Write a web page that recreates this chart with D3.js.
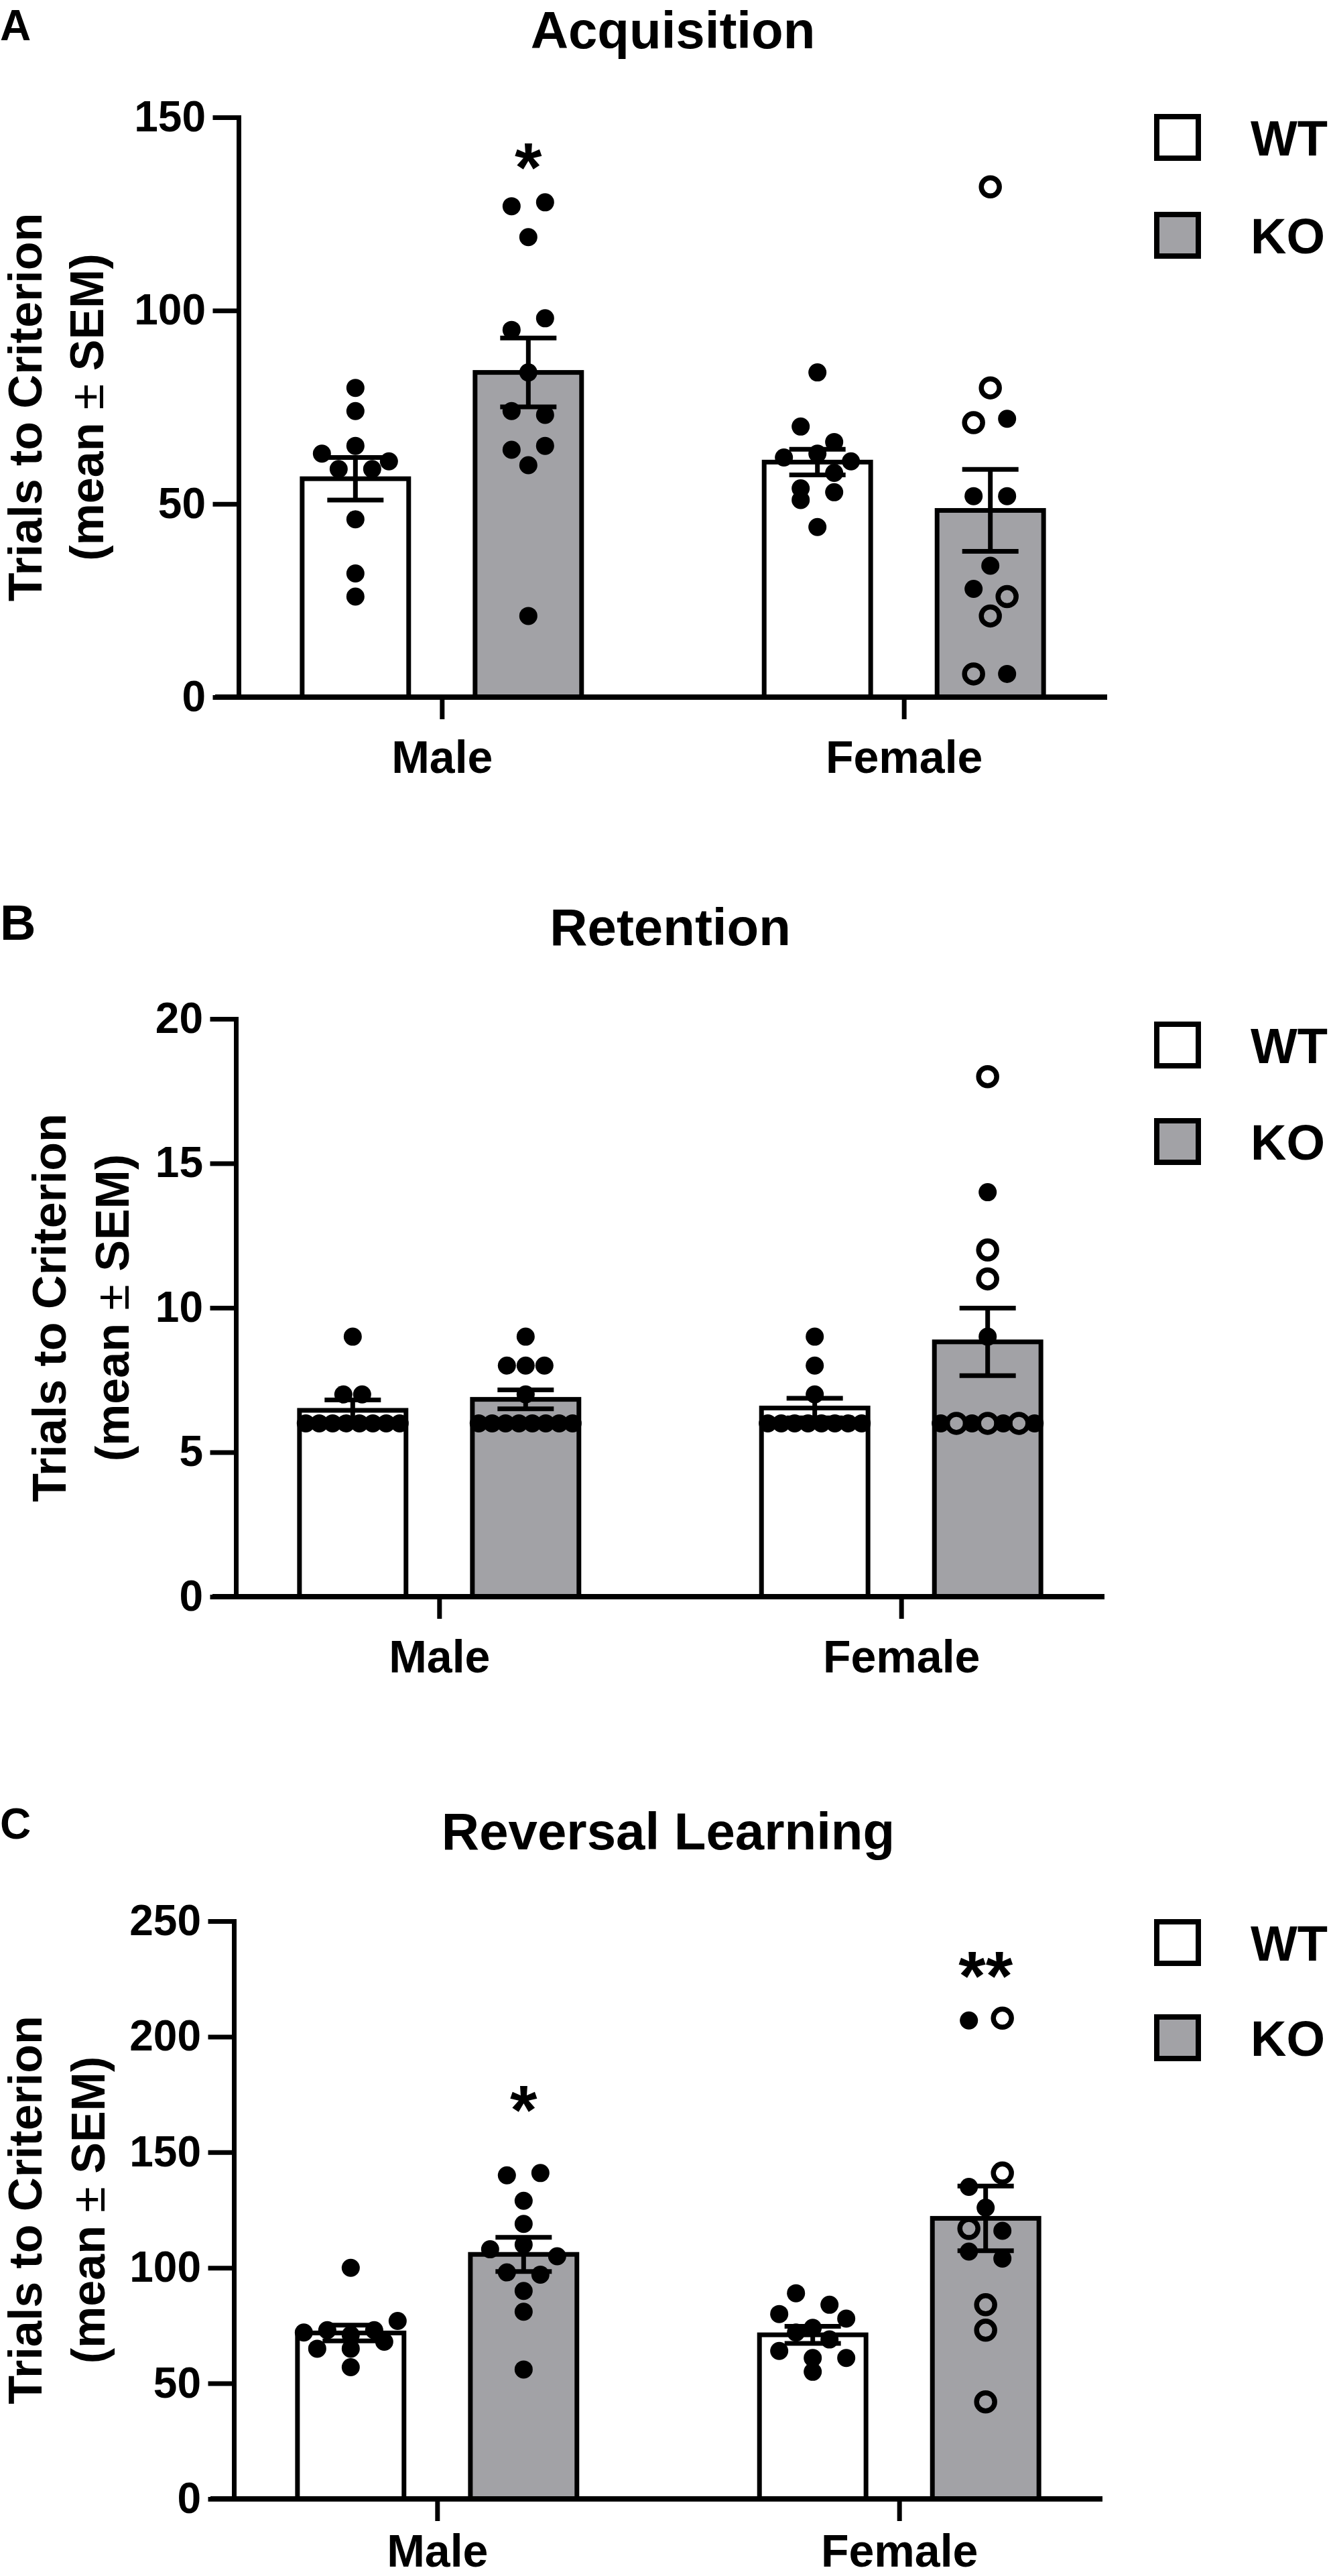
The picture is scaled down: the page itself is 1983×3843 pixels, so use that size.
<!DOCTYPE html>
<html><head><meta charset="utf-8">
<script src="https://cdn.jsdelivr.net/npm/d3@7"></script>
<style>
html,body{margin:0;padding:0;background:#fff;}
svg{display:block;}
text{font-family:"Liberation Sans", Arial, Helvetica, sans-serif;font-weight:bold;fill:#000;}
</style></head><body>
<svg id="chart" width="1983" height="3843"></svg>
<script>
// ================= DATA =================
const categories = ["Male", "Female"];
const genotypes = ["WT", "KO"];
const panelLetters = ["A", "B", "C"];
const panelTitles = ["Acquisition", "Retention", "Reversal Learning"];
const yAxisTitle1 = "Trials to Criterion";
const yAxisTitle2 = ["(mean ", "\u00B1", " SEM)"];

const acqTicks = [0, 50, 100, 150];
const retTicks = [0, 5, 10, 15, 20];
const revTicks = [0, 50, 100, 150, 200, 250];

// bar order: WT-Male, KO-Male, WT-Female, KO-Female
const acqMean = [56.5, 84.0, 60.8, 48.3];
const acqSem  = [5.5, 8.9, 3.3, 10.6];
const retMean = [6.45, 6.83, 6.53, 8.82];
const retSem  = [0.36, 0.33, 0.34, 1.17];
const revMean = [71.8, 105.8, 71.0, 121.4];
const revSem  = [3.4, 7.4, 3.7, 14.0];

// individual animals (Acquisition)
const acqWTMale   = [80, 74, 63, 65, 61, 59, 59, 46, 32, 26];
const acqKOMale   = [127, 128, 119, 95, 98, 84, 74, 73, 64, 65, 60, 21];
const acqWTFemale = [84, 70, 66, 62, 63, 61, 54, 58, 51, 53, 44];
const acqKOFemale = [132, 80, 71, 72, 52, 52, 34, 28, 26, 21, 6, 6];
const acqKOFemaleOpen = [1, 1, 1, 0, 0, 0, 0, 0, 1, 1, 1, 0];

// Retention
const retWTMale   = [9, 7, 7, 6, 6, 6, 6, 6, 6, 6, 6];
const retKOMale   = [9, 8, 8, 8, 7, 6, 6, 6, 6, 6, 6, 6, 6];
const retWTFemale = [9, 8, 7, 6, 6, 6, 6, 6, 6, 6, 6];
const retKOFemale = [18, 14, 12, 11, 9, 6, 6, 6, 6, 6, 6, 6];
const retKOFemaleOpen = [1, 0, 1, 1, 0, 0, 1, 0, 1, 0, 1, 0];

// Reversal learning
const revWTMale   = [100, 72, 73, 71, 73, 77, 65, 65, 68, 57];
const revKOMale   = [140, 141, 129, 119, 108, 110, 105, 98, 97, 90, 81, 56];
const revWTFemale = [89, 80, 84, 74, 78, 72, 69, 64, 61, 61, 55];
const revKOFemale = [207, 208, 135, 141, 126, 117, 116, 107, 104, 84, 73, 42];
const revKOFemaleOpen = [0, 1, 0, 1, 0, 1, 0, 0, 0, 1, 1, 1];

// significance marks per bar
const acqSig = ["", "*", "", ""];
const acqSigAt = [null, 141, null, null];
const retSig = ["", "", "", ""];
const retSigAt = [null, null, null, null];
const revSig = ["", "*", "", "**"];
const revSigAt = [null, 175, null, 233];

// ================= LAYOUT / STYLE =================
const panels = [
  {ticks: acqTicks, mean: acqMean, sem: acqSem, sig: acqSig, sigAt: acqSigAt,
   pts: [acqWTMale, acqKOMale, acqWTFemale, acqKOFemale],
   open: [null, null, null, acqKOFemaleOpen]},
  {ticks: retTicks, mean: retMean, sem: retSem, sig: retSig, sigAt: retSigAt,
   pts: [retWTMale, retKOMale, retWTFemale, retKOFemale],
   open: [null, null, null, retKOFemaleOpen]},
  {ticks: revTicks, mean: revMean, sem: revSem, sig: revSig, sigAt: revSigAt,
   pts: [revWTMale, revKOMale, revWTFemale, revKOFemale],
   open: [null, null, null, revKOFemaleOpen]}
];
const layout = [
  {top: 175,  bottom: 1040, dx: 0,  letterY: 60,   letterSize: 64, titleY: 72,   ylabX: [62, 154], legWT: 205,  legKO: 351,  spacing: 50, xPad: 32},
  {top: 1520, bottom: 2382, dx: -4, letterY: 1402, letterSize: 74, titleY: 1410, ylabX: [98, 192], legWT: 1559, legKO: 1703, spacing: 28, xPad: 32},
  {top: 2866, bottom: 3728, dx: -7, letterY: 2743, letterSize: 64, titleY: 2759, ylabX: [62, 156], legWT: 2898, legKO: 3040, spacing: 50, xPad: 20}
];
const AXIS_X = 356, AXIS_END = 1652;
const LW = 7;
const GRAY = "#a2a2a6";
const DOT_R = 13.5, OPEN_R = 13.5, OPEN_SW = 7.5;

const svg = d3.select("#chart");
svg.append("rect").attr("width", 1983).attr("height", 3843).attr("fill", "#fff");

function swarm(values, y, spacing) {
  const idx = values.map((v, i) => i).sort((a, b) => values[b] - values[a] || a - b);
  const off = new Array(values.length).fill(0);
  let i = 0;
  while (i < idx.length) {
    const first = y(values[idx[i]]);
    const row = [idx[i]];
    let j = i + 1;
    while (j < idx.length && y(values[idx[j]]) - first < 26) { row.push(idx[j]); j++; }
    row.sort((a, b) => a - b);
    const n = row.length;
    let s = spacing;
    if (n > 1 && (n - 1) * s / 2 > 70) s = 140 / (n - 1);
    row.forEach((k, r) => { off[k] = (r - (n - 1) / 2) * s; });
    i = j;
  }
  return off;
}

panels.forEach((P, pi) => {
  const L = layout[pi];
  const ax = AXIS_X + L.dx, ae = AXIS_END + L.dx;
  const g = svg.append("g");
  const yMax = P.ticks[P.ticks.length - 1];
  const y = d3.scaleLinear().domain([0, yMax]).range([L.bottom, L.top]);
  const x = d3.scalePoint().domain(categories).range([ax, ae]).padding(0.44);
  const sub = d3.scaleBand().domain(genotypes).range([-258, 258]).paddingInner(0.384).paddingOuter(0.192);
  const bw = sub.bandwidth();

  // panel letter & title
  g.append("text").attr("x", 0).attr("y", L.letterY).attr("font-size", L.letterSize).text(panelLetters[pi]);
  g.append("text").attr("x", (ax + ae) / 2).attr("y", L.titleY).attr("text-anchor", "middle")
    .attr("font-size", 78).text(panelTitles[pi]);

  // y-axis title
  const cy = (L.top + L.bottom) / 2;
  g.append("text").attr("transform", `translate(${L.ylabX[0]},${cy}) rotate(-90)`)
    .attr("text-anchor", "middle").attr("font-size", 70).text(yAxisTitle1);
  const t2 = g.append("text").attr("transform", `translate(${L.ylabX[1]},${cy}) rotate(-90)`)
    .attr("text-anchor", "middle").attr("font-size", 70);
  yAxisTitle2.forEach((s, si) => {
    t2.append("tspan").attr("font-weight", si === 1 ? "normal" : "bold").text(s);
  });

  // bars
  const bars = [];
  categories.forEach((c, ci) => genotypes.forEach((gt, gi) => {
    const k = ci * 2 + gi;
    bars.push({k, gt, cx: x(c) + sub(gt) + bw / 2});
  }));
  g.selectAll("rect.bar").data(bars).enter().append("rect").attr("class", "bar")
    .attr("x", d => d.cx - bw / 2).attr("width", bw)
    .attr("y", d => y(P.mean[d.k])).attr("height", d => y(0) - y(P.mean[d.k]))
    .attr("fill", d => d.gt === "WT" ? "#fff" : GRAY)
    .attr("stroke", "#000").attr("stroke-width", LW);

  // points
  bars.forEach(b => {
    const vals = P.pts[b.k];
    const op = P.open[b.k];
    const off = swarm(vals, y, L.spacing);
    const pts = vals.map((v, i) => ({v, o: op ? op[i] : 0, dx: off[i]}));
    g.selectAll(null).data(pts).enter().append("circle")
      .attr("cx", d => b.cx + d.dx).attr("cy", d => y(d.v))
      .attr("r", d => d.o ? OPEN_R : DOT_R)
      .attr("fill", d => d.o ? "none" : "#000")
      .attr("stroke", d => d.o ? "#000" : "none")
      .attr("stroke-width", d => d.o ? OPEN_SW : 0);
  });

  // error bars
  bars.forEach(b => {
    const m = P.mean[b.k], s = P.sem[b.k];
    const eg = g.append("g").attr("stroke", "#000").attr("stroke-width", LW);
    eg.append("line").attr("x1", b.cx).attr("x2", b.cx).attr("y1", y(m + s)).attr("y2", y(m - s));
    [m + s, m - s].forEach(v => eg.append("line").attr("x1", b.cx - 42).attr("x2", b.cx + 42)
      .attr("y1", y(v)).attr("y2", y(v)));
  });

  // significance
  bars.forEach(b => {
    if (!P.sig[b.k]) return;
    g.append("text").attr("x", b.cx).attr("y", y(P.sigAt[b.k]) + 0.57 * 104)
      .attr("text-anchor", "middle").attr("font-size", 104).attr("font-weight", "normal").text(P.sig[b.k]);
  });

  // y axis
  const yAx = g.append("g").attr("transform", `translate(${ax},0)`)
    .call(d3.axisLeft(y).tickValues(P.ticks).tickSize(35).tickSizeOuter(0).tickPadding(14).tickFormat(d3.format("d")));
  yAx.attr("font-family", null).attr("font-size", null);
  yAx.selectAll("path,line").attr("stroke", "#000").attr("stroke-width", LW).attr("stroke-linecap", "square");
  yAx.selectAll("text").attr("font-size", 64).attr("fill", "#000");

  // x axis
  const xAx = g.append("g").attr("transform", `translate(0,${y(0)})`)
    .call(d3.axisBottom(x).tickSize(33).tickSizeOuter(0).tickPadding(L.xPad));
  xAx.attr("font-family", null).attr("font-size", null);
  xAx.select(".domain").remove();
  xAx.selectAll("line").attr("stroke", "#000").attr("stroke-width", LW);
  xAx.selectAll("text").attr("font-size", 68).attr("fill", "#000");
  g.append("line").attr("x1", ax - 35).attr("x2", ae).attr("y1", y(0)).attr("y2", y(0))
    .attr("stroke", "#000").attr("stroke-width", 8);

  // legend
  const leg = [{gt: "WT", cy: L.legWT}, {gt: "KO", cy: L.legKO}];
  leg.forEach(l => {
    g.append("rect").attr("x", 1757 - 31).attr("y", l.cy - 31).attr("width", 62).attr("height", 62)
      .attr("fill", l.gt === "WT" ? "#fff" : GRAY).attr("stroke", "#000").attr("stroke-width", 8);
    g.append("text").attr("x", 1866).attr("y", l.cy + 27).attr("font-size", 74).text(l.gt);
  });
});
</script>
</body></html>
